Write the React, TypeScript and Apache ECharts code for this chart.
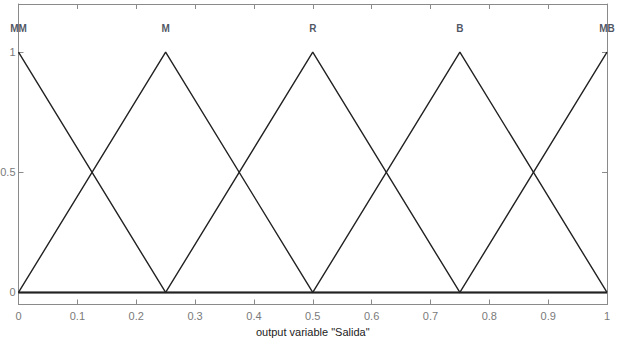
import React, { useEffect, useRef } from "react";
import * as echarts from "echarts";

const mfNames = ["MM", "M", "R", "B", "MB"];
const mfParams: number[][] = [
  [-0.25, 0, 0.25],
  [0, 0.25, 0.5],
  [0.25, 0.5, 0.75],
  [0.5, 0.75, 1],
  [0.75, 1, 1.25],
];
const xTicks = [0, 0.1, 0.2, 0.3, 0.4, 0.5, 0.6, 0.7, 0.8, 0.9, 1];
const yTicks = [0, 0.5, 1];
const xRange = [0, 1];
const yRange = [-0.05, 1.2];
const labelLevel = 1.1;
const xTitle = 'output variable "Salida"';

function trimf(x: number, p: number[]): number {
  const [a, b, c] = p;
  if (x === b) return 1;
  if (x <= a || x >= c) return 0;
  return x < b ? (x - a) / (b - a) : (c - x) / (c - b);
}

function mfPoints(p: number[]): number[][] {
  const xs = [xRange[0], ...p, xRange[1]]
    .filter((x) => x >= xRange[0] && x <= xRange[1])
    .sort((u, v) => u - v);
  const uniq = xs.filter((x, i) => i === 0 || x !== xs[i - 1]);
  return uniq.map((x) => [x, trimf(x, p)]);
}

export default function App() {
  const ref = useRef<HTMLDivElement>(null);
  useEffect(() => {
    if (!ref.current) return;
    const chart = echarts.init(ref.current, null, { renderer: "svg" });
    const frame = "#8a8a8a";
    const font = "Liberation Sans, Arial, sans-serif";
    const tickLabel = { color: "#7a7a7a", fontSize: 11, fontFamily: font };
    chart.setOption({
      animation: false,
      grid: { left: 18.5, right: 19, top: 4, bottom: 39.5, show: false, containLabel: false, outerBoundsMode: "none" },
      xAxis: [
        {
          type: "value",
          min: xRange[0],
          max: xRange[1],
          interval: 0.1,
          position: "bottom",
          axisLine: { show: true, onZero: false, lineStyle: { color: frame, width: 1 } },
          axisTick: { show: true, inside: true, length: 5, customValues: xTicks, lineStyle: { color: frame } },
          axisLabel: { ...tickLabel, margin: 6, customValues: xTicks, formatter: (v: number) => String(+v.toFixed(2)) },
          splitLine: { show: false },
          name: xTitle,
          nameLocation: "middle",
          nameGap: 21,
          nameTextStyle: { color: "#222", fontSize: 11, fontFamily: font },
        },
        {
          type: "value",
          min: xRange[0],
          max: xRange[1],
          interval: 0.1,
          position: "top",
          axisLine: { show: true, onZero: false, lineStyle: { color: frame, width: 1 } },
          axisTick: { show: true, inside: true, length: 5, customValues: xTicks, lineStyle: { color: frame } },
          axisLabel: { show: false },
          splitLine: { show: false },
        },
      ],
      yAxis: [
        {
          type: "value",
          min: yRange[0],
          max: yRange[1],
          position: "left",
          axisLine: { show: true, onZero: false, lineStyle: { color: frame, width: 1 } },
          axisTick: { show: true, inside: true, length: 5, customValues: yTicks, lineStyle: { color: frame } },
          axisLabel: { ...tickLabel, margin: 3, customValues: yTicks, formatter: (v: number) => String(v) },
          splitLine: { show: false },
        },
        {
          type: "value",
          min: yRange[0],
          max: yRange[1],
          position: "right",
          axisLine: { show: true, onZero: false, lineStyle: { color: frame, width: 1 } },
          axisTick: { show: true, inside: true, length: 5, customValues: yTicks, lineStyle: { color: frame } },
          axisLabel: { show: false },
          splitLine: { show: false },
        },
      ],
      series: [
        ...mfParams.map((p, i) => ({
          type: "line",
          name: mfNames[i],
          data: mfPoints(p),
          showSymbol: false,
          symbol: "none",
          lineStyle: { color: "#222", width: 1.4 },
          silent: true,
        })),
        {
          type: "scatter",
          symbolSize: 0,
          data: mfParams.map((p, i) => [p[1], labelLevel, mfNames[i]]),
          label: {
            show: true,
            position: "inside",
            formatter: (d: any) => d.value[2],
            color: "#1e2a3a",
            fontSize: 10,
            fontWeight: "bold",
            fontFamily: font,
          },
          silent: true,
        },
      ],
    });
    return () => chart.dispose();
  }, []);
  return (
    <div
      ref={ref}
      style={{ position: "fixed", left: 0, top: 0, width: 626, height: 344, background: "#fff" }}
    />
  );
}
